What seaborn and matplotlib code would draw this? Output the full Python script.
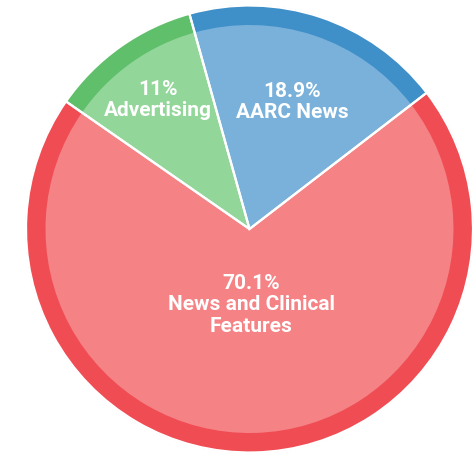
import numpy as np
import seaborn as sns
import matplotlib
matplotlib.use("Agg")
import matplotlib.pyplot as plt

categories = ["AARC News", "News and Clinical\nFeatures", "Advertising"]
shares = [18.9, 70.1, 11.0]
pct_labels = ["18.9%", "70.1%", "11%"]

outer_colors = ["#3f8fc9", "#f04c53", "#5fbf6b"]
inner_colors = ["#7ab1da", "#f58285", "#93d69a"]
label_dist = [134, 76, 158]

sns.set_theme(style="white")
plt.rcParams["font.family"] = ["Roboto", "DejaVu Sans"]

fig = plt.figure(figsize=(4.76, 4.53), dpi=100)
ax = fig.add_axes([0, 0, 1, 1])

cx, cy = 249.5, 224
r_out, r_in = 224, 204
start = 105.6

# darker outer ring, lighter wedges on top, then white separators
ax.pie(shares, colors=outer_colors, startangle=start, counterclock=False,
       radius=r_out, center=(cx, cy), frame=True,
       wedgeprops=dict(linewidth=0))
wedges, _ = ax.pie(shares, colors=inner_colors, startangle=start, counterclock=False,
                   radius=r_in, center=(cx, cy), frame=True,
                   wedgeprops=dict(linewidth=0))
ax.pie(shares, startangle=start, counterclock=False,
       radius=r_out - 0.5, center=(cx, cy), frame=True,
       wedgeprops=dict(facecolor="none", edgecolor="white", linewidth=1.6))
ax.set_xlim(0, 476)
ax.set_ylim(0, 453)
ax.set_aspect("equal")
ax.axis("off")

for w, pct, cat, d in zip(wedges, pct_labels, categories, label_dist):
    mid = np.deg2rad((w.theta1 + w.theta2) / 2)
    x = cx + d * np.cos(mid)
    y = cy + d * np.sin(mid)
    ax.text(x, y, pct + "\n" + cat, ha="center", va="center", color="white",
            fontsize=15, fontweight="bold", linespacing=1.15,
            multialignment="center")

fig.savefig("out.png", dpi=100)
